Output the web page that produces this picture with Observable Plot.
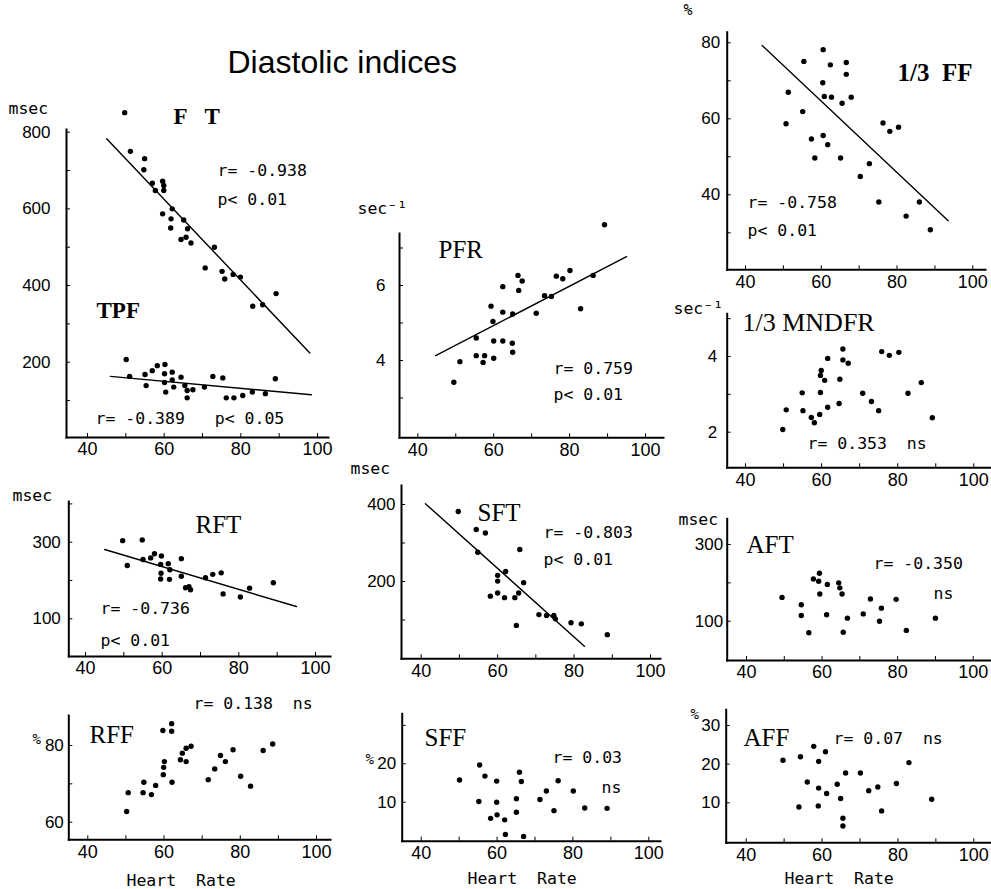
<!DOCTYPE html>
<html>
<head>
<meta charset="utf-8">
<script src="https://cdn.jsdelivr.net/npm/d3@7"></script>
<script src="https://cdn.jsdelivr.net/npm/@observablehq/plot@0.6"></script>
<style>
  html, body { margin: 0; padding: 0; background: #fff; }
  #chart { position: relative; width: 991px; height: 889px; background: #fff; overflow: hidden; }
  #chart svg { position: absolute; left: 0; top: 0; }
</style>
</head>
<body>
<div id="chart"></div>
<script>
// ---------------- DATA ----------------
const hrTicks = [40, 60, 80, 100];
const hrMinor = [40, 50, 60, 70, 80, 90, 100];

// F T (filling time, msec)
const ftHR = [49.7, 51.2, 54.9, 54.7, 56.9, 59.6, 59.9, 59.9, 57.7, 59.6, 62.1, 61.8, 61.7, 65.1, 66.1, 64.4, 65.7, 67.0, 73.1, 70.7, 75.1, 75.8, 78.0, 79.9, 83.1, 85.7, 89.2];
const ftMs = [851, 750, 731, 702, 667, 672, 661, 648, 648, 587, 600, 574, 550, 571, 548, 520, 526, 511, 500, 446, 437, 417, 429, 422, 346, 350, 379];
const ftFitHR = [45, 98];
const ftFitMs = [783, 224];
// TPF (msec)
const tpfHR = [50.1, 51.0, 55.0, 55.3, 56.9, 58.2, 60.2, 60.1, 60.1, 60.4, 62.1, 62.1, 62.5, 64.4, 65.4, 66.0, 66.0, 67.5, 70.5, 72.7, 75.3, 76.2, 78.2, 80.5, 83.0, 86.4, 89.0];
const tpfMs = [207, 163, 168, 139, 178, 191, 194, 170, 147, 122, 174, 154, 135, 161, 139, 126, 107, 128, 135, 163, 159, 107, 107, 113, 122, 118, 157];
const tpfFitHR = [46, 98.4];
const tpfFitMs = [163, 115];
const ftTicks = [200, 400, 600, 800];
const ftMinor = [100, 200, 300, 400, 500, 600, 700, 800];

// PFR (sec-1)
const pfrHR = [89.2, 49.5, 51.1, 55.4, 55.4, 57.2, 57.6, 59.3, 59.8, 60.0, 60.0, 62.4, 62.4, 62.4, 64.9, 65.0, 65.0, 66.4, 66.6, 67.5, 71.2, 73.4, 75.2, 76.5, 78.2, 80.1, 82.9, 86.2];
const pfrV = [7.62, 3.42, 3.97, 4.60, 4.13, 3.95, 4.13, 5.45, 5.04, 4.52, 4.06, 5.97, 5.29, 4.52, 4.46, 4.22, 5.24, 6.27, 5.87, 6.12, 5.26, 5.73, 5.71, 6.25, 6.18, 6.40, 5.38, 6.27];
const pfrFitHR = [44.7, 95];
const pfrFitV = [4.13, 6.77];
const pfrTicks = [4, 6];
const pfrMinor = [3, 4, 5, 6, 7];

// 1/3 FF (%)
const ffHR = [50.7, 51.3, 55.4, 55.1, 57.4, 58.3, 60.5, 60.4, 60.8, 60.5, 61.7, 62.4, 62.7, 65.5, 65.1, 66.6, 66.6, 67.9, 70.3, 72.7, 75.2, 76.3, 78.1, 80.4, 82.4, 85.9, 88.8];
const ffV = [58.7, 67.0, 75.1, 61.9, 54.7, 49.7, 78.2, 69.5, 65.9, 55.6, 53.2, 74.2, 65.7, 64.1, 49.7, 74.8, 71.7, 65.7, 44.8, 48.2, 38.1, 58.9, 56.7, 57.8, 34.4, 38.1, 30.8];
const ffFitHR = [44.4, 93.5];
const ffFitV = [79.3, 33.2];
const ffTicks = [40, 60, 80];
const ffMinor = [30, 40, 50, 60, 70, 80];

// 1/3 MNDFR (sec-1)
const mnHR = [49.8, 50.7, 54.9, 55.1, 57.3, 58.1, 59.5, 59.7, 59.9, 59.7, 60.8, 61.6, 61.6, 64.8, 64.6, 65.6, 65.6, 67.0, 70.8, 73.1, 75.0, 75.8, 77.8, 80.3, 82.7, 86.2, 89.1];
const mnV = [2.07, 2.59, 3.04, 2.57, 2.39, 2.25, 2.47, 3.05, 3.63, 3.50, 3.37, 3.95, 2.66, 3.40, 2.76, 4.20, 3.91, 3.82, 3.03, 2.81, 2.57, 4.13, 4.03, 4.11, 3.03, 3.31, 2.38];
const mnTicks = [2, 4];
const mnMinor = [2, 3, 4, 5];

// RFT (msec)
const rftHR = [49.7, 54.8, 50.9, 55.0, 57.0, 58.0, 59.8, 59.6, 59.7, 59.6, 61.6, 62.0, 61.9, 65.0, 65.0, 66.1, 67.0, 67.4, 71.3, 73.2, 75.4, 75.9, 80.4, 82.8, 89.0];
const rftMs = [304, 306, 239, 255, 259, 270, 264, 242, 219, 204, 244, 228, 203, 257, 211, 181, 184, 176, 207, 216, 220, 165, 157, 180, 194];
const rftFitHR = [45, 95];
const rftFitMs = [281, 132];
const rftTicks = [100, 300];
const rftMinor = [100, 200, 300, 400];

// SFT (msec)
const sftHR = [49.7, 54.4, 56.8, 54.8, 62.1, 60.0, 60.0, 58.1, 60.0, 61.8, 64.5, 65.5, 65.8, 66.8, 64.9, 70.8, 72.8, 74.7, 75.1, 79.2, 81.9, 88.7];
const sftMs = [382, 335, 326, 276, 226, 216, 201, 162, 170, 158, 158, 170, 283, 197, 86, 114, 112, 112, 103, 93, 90, 62];
const sftFitHR = [41.1, 82.7];
const sftFitMs = [402, 32];
const sftTicks = [200, 400];
const sftMinor = [100, 200, 300, 400];

// AFT (msec)
const aftHR = [49.4, 54.5, 54.5, 56.5, 57.7, 59.3, 59.1, 59.4, 61.4, 61.2, 64.4, 64.7, 65.3, 65.6, 66.7, 70.9, 72.8, 75.2, 75.7, 79.6, 82.3, 90.0];
const aftMs = [162, 143, 115, 70, 210, 225, 204, 171, 196, 117, 200, 187, 171, 71, 108, 119, 158, 100, 134, 157, 76, 108];
const aftTicks = [100, 300];
const aftMinor = [100, 200, 300];

// RFF (%)
const rffHR = [50.2, 50.6, 54.7, 54.5, 56.7, 57.8, 59.8, 59.9, 60.1, 59.7, 62.0, 62.0, 62.1, 64.3, 64.8, 65.8, 65.8, 67.1, 71.6, 73.3, 74.8, 76.1, 78.1, 80.1, 82.7, 86.0, 88.5];
const rffV = [62.8, 67.7, 70.4, 67.7, 67.2, 69.6, 72.4, 74.3, 75.8, 83.9, 85.7, 83.7, 70.4, 76.3, 78.0, 75.8, 79.3, 79.8, 71.1, 73.9, 77.4, 75.8, 78.9, 72.0, 69.4, 78.7, 80.4];
const rffTicks = [60, 80];
const rffMinor = [60, 70, 80];

// SFF (%)
const sffHR = [50.1, 55.4, 56.8, 55.2, 58.3, 59.9, 59.9, 60.0, 62.0, 62.2, 65.1, 65.1, 65.9, 66.4, 67.0, 71.3, 73.0, 75.0, 76.1, 80.1, 83.1, 89.0];
const sffV = [15.8, 19.7, 16.8, 10.2, 5.8, 15.5, 10.0, 6.7, 5.4, 1.6, 10.9, 7.4, 17.8, 15.4, 1.1, 10.7, 12.9, 7.8, 15.6, 12.9, 8.5, 8.4];
const sffTicks = [10, 20];
const sffMinor = [10, 20, 30];

// AFF (%)
const affHR = [49.7, 54.3, 53.9, 56.1, 57.8, 59.1, 59.1, 59.0, 60.9, 61.2, 64.0, 64.9, 65.5, 65.5, 66.2, 70.1, 72.3, 74.7, 75.7, 79.6, 82.9, 88.9];
const affV = [21.0, 21.9, 8.9, 15.4, 24.6, 20.7, 13.8, 9.2, 23.2, 12.4, 14.8, 11.1, 6.0, 4.0, 17.7, 17.7, 13.1, 14.1, 7.9, 15.0, 20.4, 10.9];
const affTicks = [10, 20, 30];
const affMinor = [10, 20, 30];

// ---------------- LAYOUT ----------------
const W = 991, H = 889;
const MONO = "'DejaVu Sans Mono', monospace";
const SERIF = "'Liberation Serif', 'Times New Roman', serif";
const SANS = "'Liberation Sans', Arial, sans-serif";
const plain = d => `${d}`;

function panel(L, extra) {
  return Plot.plot({
    width: W, height: H,
    marginLeft: L.x0, marginRight: W - L.x1, marginTop: L.yTop, marginBottom: H - L.yBot,
    x: {domain: [40, 100], range: L.xr},
    y: {domain: L.yd, range: L.yr},
    style: {background: "transparent", overflow: "visible", fontFamily: SANS, color: "black"},
    marks: [
      Plot.frame({anchor: "left", strokeWidth: 2}),
      Plot.frame({anchor: "bottom", strokeWidth: 2}),
      Plot.axisX({ticks: hrMinor, tickSize: -4, tickFormat: () => "", label: null}),
      Plot.axisX({ticks: hrTicks, tickSize: 0, tickPadding: 5, label: null, fontSize: 18, tickFormat: plain}),
      Plot.axisY({ticks: L.yMinor, tickSize: -4, tickFormat: () => "", label: null}),
      Plot.axisY({ticks: L.yTicks, tickSize: 0, tickPadding: L.yPad, label: null, fontSize: 17, tickFormat: plain}),
      ...extra
    ]
  });
}
function txt(L, s, px, py, o = {}) {
  return Plot.text([s], {
    text: d => d, frameAnchor: "top-left", dx: px - L.x0, dy: py - L.yTop,
    textAnchor: "start", lineAnchor: "bottom", fontFamily: MONO, fontSize: 16.5, fill: "black", ...o
  });
}
const dots = (x, y) => Plot.dot(x, {x, y, r: 2.7, fill: "black"});
const fit = (x, y) => Plot.line(x, {x, y, stroke: "black", strokeWidth: 1.4});
const title = (L, s, px, py, size = 25, bold = false) =>
  txt(L, s, px, py, {fontFamily: SERIF, fontSize: size, fontWeight: bold ? "bold" : "normal"});

const chart = document.getElementById("chart");

// F T / TPF
{
  const L = {x0: 66, x1: 328, yTop: 129, yBot: 437, xr: [87, 317], yd: [200, 800], yr: [361.7, 131.7], yTicks: ftTicks, yMinor: ftMinor, yPad: 16};
  chart.append(panel(L, [
    txt(L, "Diastolic indices", 227, 72, {fontFamily: SANS, fontSize: 32}),
    txt(L, "msec", 8, 113),
    title(L, "F\u2002 T", 173, 123, 23, true),
    txt(L, "r= -0.938", 217, 175),
    txt(L, "p< 0.01", 217, 204),
    title(L, "TPF", 96, 317, 23, true),
    txt(L, "r= -0.389   p< 0.05", 95, 423),
    fit(ftFitHR, ftFitMs), fit(tpfFitHR, tpfFitMs),
    dots(ftHR, ftMs), dots(tpfHR, tpfMs)
  ]));
}
// PFR
{
  const L = {x0: 399, x1: 663, yTop: 233, yBot: 437.3, xr: [417.3, 645], yd: [4, 6], yr: [360, 285], yTicks: pfrTicks, yMinor: pfrMinor, yPad: 14};
  chart.append(panel(L, [
    txt(L, "sec\u207B\u00B9", 357, 213),
    title(L, "PFR", 438, 257),
    txt(L, "r= 0.759", 553, 373),
    txt(L, "p< 0.01", 553, 399),
    fit(pfrFitHR, pfrFitV), dots(pfrHR, pfrV)
  ]));
}
// 1/3 FF
{
  const L = {x0: 726.7, x1: 985, yTop: 31.7, yBot: 269.3, xr: [745, 972.3], yd: [40, 80], yr: [194.3, 42.3], yTicks: ffTicks, yMinor: ffMinor, yPad: 7};
  chart.append(panel(L, [
    txt(L, "%", 683, 14, {fontSize: 15}),
    title(L, "1/3\u2002FF", 897, 80, 25, true),
    txt(L, "r= -0.758", 747, 207),
    txt(L, "p< 0.01", 747, 235),
    fit(ffFitHR, ffFitV), dots(ffHR, ffV)
  ]));
}
// 1/3 MNDFR
{
  const L = {x0: 726.7, x1: 990, yTop: 313.3, yBot: 467.3, xr: [745, 973.3], yd: [2, 4], yr: [431.7, 356], yTicks: mnTicks, yMinor: mnMinor, yPad: 10};
  chart.append(panel(L, [
    txt(L, "sec\u207B\u00B9", 673, 313),
    title(L, "1/3 MNDFR", 742, 330, 26),
    txt(L, "r= 0.353  ns", 807, 448),
    dots(mnHR, mnV)
  ]));
}
// RFT
{
  const L = {x0: 68.3, x1: 330, yTop: 501, yBot: 656, xr: [85, 315], yd: [100, 300], yr: [618.3, 541.7], yTicks: rftTicks, yMinor: rftMinor, yPad: 8};
  chart.append(panel(L, [
    txt(L, "msec", 12, 500),
    title(L, "RFT", 195, 532),
    txt(L, "r= -0.736", 100, 613),
    txt(L, "p< 0.01", 100, 645),
    fit(rftFitHR, rftFitMs), dots(rftHR, rftMs)
  ]));
}
// SFT
{
  const L = {x0: 401, x1: 660, yTop: 485, yBot: 658.3, xr: [420.7, 650], yd: [200, 400], yr: [581, 504], yTicks: sftTicks, yMinor: sftMinor, yPad: 6};
  chart.append(panel(L, [
    txt(L, "msec", 350, 473),
    title(L, "SFT", 477, 520),
    txt(L, "r= -0.803", 543, 537),
    txt(L, "p< 0.01", 543, 564),
    fit(sftFitHR, sftFitMs), dots(sftHR, sftMs)
  ]));
}
// AFT
{
  const L = {x0: 726.7, x1: 990, yTop: 518.3, yBot: 660, xr: [746, 972.7], yd: [100, 300], yr: [620.7, 544], yTicks: aftTicks, yMinor: aftMinor, yPad: 4};
  chart.append(panel(L, [
    txt(L, "msec", 678, 524),
    title(L, "AFT", 746, 552),
    txt(L, "r= -0.350", 873, 568),
    txt(L, "ns", 933, 598),
    dots(aftHR, aftMs)
  ]));
}
// RFF
{
  const L = {x0: 68.3, x1: 330, yTop: 715, yBot: 839.3, xr: [87.3, 316], yd: [60, 80], yr: [821.7, 745], yTicks: rffTicks, yMinor: rffMinor, yPad: 5};
  chart.append(panel(L, [
    txt(L, "%", 32, 743, {fontSize: 14}),
    title(L, "RFF", 89, 742),
    txt(L, "r= 0.138  ns", 193, 708),
    txt(L, "Heart  Rate", 126, 885),
    dots(rffHR, rffV)
  ]));
}
// SFF
{
  const L = {x0: 401.7, x1: 660, yTop: 713.3, yBot: 840.7, xr: [420.7, 648.3], yd: [10, 20], yr: [801.7, 763.3], yTicks: sffTicks, yMinor: sffMinor, yPad: 6};
  chart.append(panel(L, [
    txt(L, "%", 365, 763, {fontSize: 14}),
    title(L, "SFF", 424, 745),
    txt(L, "r= 0.03", 552, 762),
    txt(L, "ns", 601, 792),
    txt(L, "Heart  Rate", 467, 883),
    dots(sffHR, sffV)
  ]));
}
// AFF
{
  const L = {x0: 725.7, x1: 990, yTop: 709.3, yBot: 842.3, xr: [745.7, 973.3], yd: [10, 30], yr: [802.3, 725], yTicks: affTicks, yMinor: affMinor, yPad: 6};
  chart.append(panel(L, [
    txt(L, "%", 690, 718, {fontSize: 14}),
    title(L, "AFF", 743, 745),
    txt(L, "r= 0.07  ns", 833, 743),
    txt(L, "Heart  Rate", 784, 883),
    dots(affHR, affV)
  ]));
}
</script>
</body>
</html>
